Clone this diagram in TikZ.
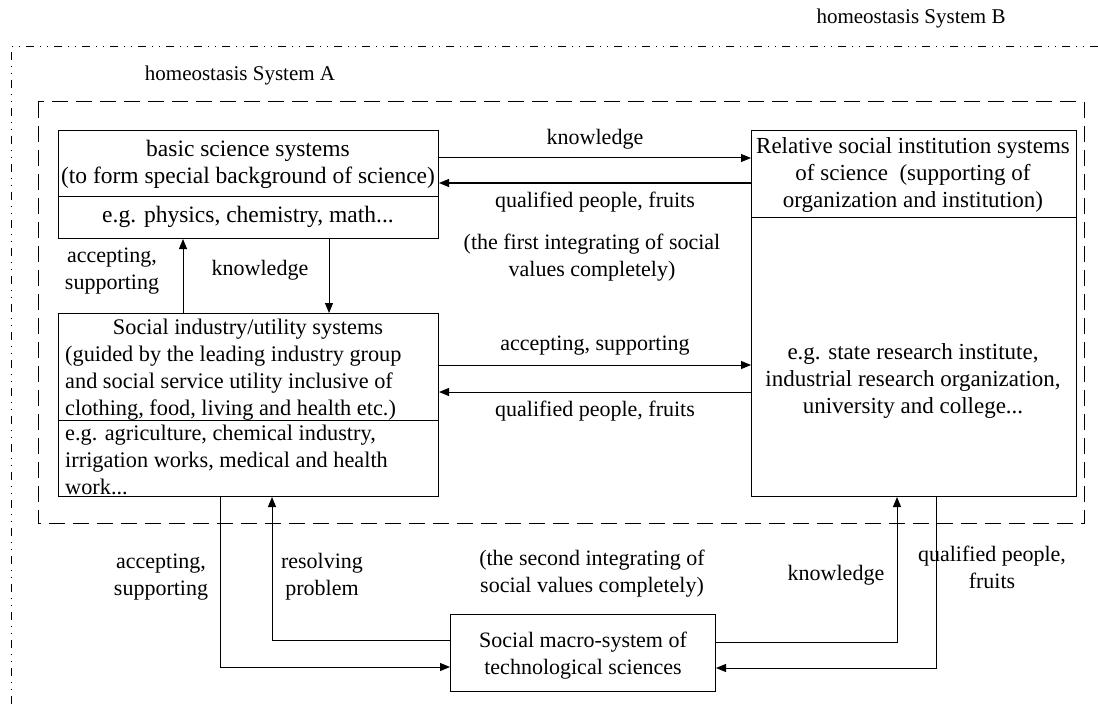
\documentclass[tikz,border=0pt]{standalone}
\usepackage{fontspec}
\setmainfont{Liberation Serif}
\usetikzlibrary{arrows.meta}
\begin{document}
\begin{tikzpicture}[x=1pt,y=-1pt,
  box/.style={draw,line width=1pt,inner sep=0pt,minimum width=#1},
  txt/.style={inner sep=0pt,align=center,font=\fontsize{22}{27}\selectfont},
  htxt/.style={inner sep=0pt,align=center,font=\fontsize{21}{27}\selectfont},
  btxt/.style={inner sep=0pt,align=center,font=\fontsize{23.5}{27}\selectfont},
  rtxt/.style={inner sep=0pt,align=center,font=\fontsize{23}{27}\selectfont},
  ltxt/.style={inner sep=0pt,align=left,font=\fontsize{22.3}{27}\selectfont},
  arr/.style={line width=1pt,-{Triangle[length=10pt,width=8pt]}}]
\useasboundingbox (0,0) rectangle (1098,706);
% System B frame (dash dot dot)
\draw[line width=1pt,dash pattern=on 8pt off 6pt on 1pt off 6pt on 1pt off 6pt] (1098,47) -- (11,47) -- (11,706);
\node[htxt,anchor=base] (labB) at (911,24) {homeostasis System B};
% System A frame
\draw[line width=1pt,dash pattern=on 16pt off 8pt] (38,102) rectangle (1084,523);
\node[htxt,anchor=base] (labA) at (240,81) {homeostasis System A};
% Basic science
\node[box=380,minimum height=66,anchor=north west] (bsT) at (58,130) {};
\node[box=380,minimum height=42,anchor=north west] (bsB) at (58,196) {};
\node[btxt] (bsTt) at (248,164) {basic science systems\\(to form special background of science)};
\node[btxt] (bsBt) at (248,217) {e.g. physics, chemistry, math...};
% Relative social institution
\node[box=325,minimum height=87,anchor=north west] (rsT) at (751,130) {};
\node[box=325,minimum height=279,anchor=north west] (rsB) at (751,217) {};
\node[rtxt] (rsTt) at (913,175) {Relative social institution systems\\of science\ \ (supporting of\\organization and institution)};
\node[rtxt] (rsBt) at (913,381) {e.g. state research institute,\\industrial research organization,\\university and college...};
% Social industry
\node[box=380,minimum height=107,anchor=north west] (siT) at (58,313) {};
\node[box=380,minimum height=76,anchor=north west] (siB) at (58,420) {};
\node[ltxt,anchor=base] (siT1) at (248,334) {Social industry/utility systems};
\node[ltxt,anchor=base west] (siT2) at (65,415) {(guided by the leading industry group\\and social service utility inclusive of\\clothing, food, living and health etc.)};
\node[ltxt,anchor=base west] (siBt) at (65,494) {e.g. agriculture, chemical industry,\\irrigation works, medical and health\\work...};
% Macro
\node[box=265,minimum height=77,anchor=north west] (ms) at (450,614) {};
\node[txt] (mst) at (583,656) {Social macro-system of\\technological sciences};
% arrows top
\draw[arr] (bsT.east |- 0,158) -- (rsT.west |- 0,158) node[midway,txt,above=8pt] (l1) {knowledge};
\draw[arr] (rsT.west |- 0,183) -- (bsT.east |- 0,183) node[midway,txt,below=9pt] (l2) {qualified people, fruits};
% vertical between basic and industry
\draw[arr] (siT.north -| 183,0) -- (bsB.south -| 183,0);
\node[txt] (l3) at (112,271) {accepting,\\supporting};
\draw[arr] (bsB.south -| 329,0) -- (siT.north -| 329,0);
\node[txt] (l4) at (260,270) {knowledge};
\node[txt] (l5) at (592,258) {(the first integrating of social\\values completely)};
% middle arrows
\draw[arr] (siT.east |- 0,365) -- (rsB.west |- 0,365) node[midway,txt,above=9pt] (l6) {accepting, supporting};
\draw[arr] (rsB.west |- 0,392) -- (siT.east |- 0,392) node[midway,txt,below=9pt] (l7) {qualified people, fruits};
% bottom connectors
\draw[arr] (siB.south -| 220,0) |- (ms.west |- 0,667);
\node[txt] (l8) at (161,577) {accepting,\\supporting};
\draw[arr] (ms.west |- 0,640) -| (siB.south -| 272,0);
\node[txt] (l9) at (322,577) {resolving\\problem};
\node[txt] (l10) at (592,574) {(the second integrating of\\social values completely)};
\draw[arr] (ms.east |- 0,642) -| (rsB.south -| 897,0);
\node[txt] (l11) at (836,575) {knowledge};
\draw[arr] (rsB.south -| 936,0) |- (ms.east |- 0,668);
\node[txt] (l12) at (992,567) {qualified people,\\fruits};
\end{tikzpicture}
\end{document}
